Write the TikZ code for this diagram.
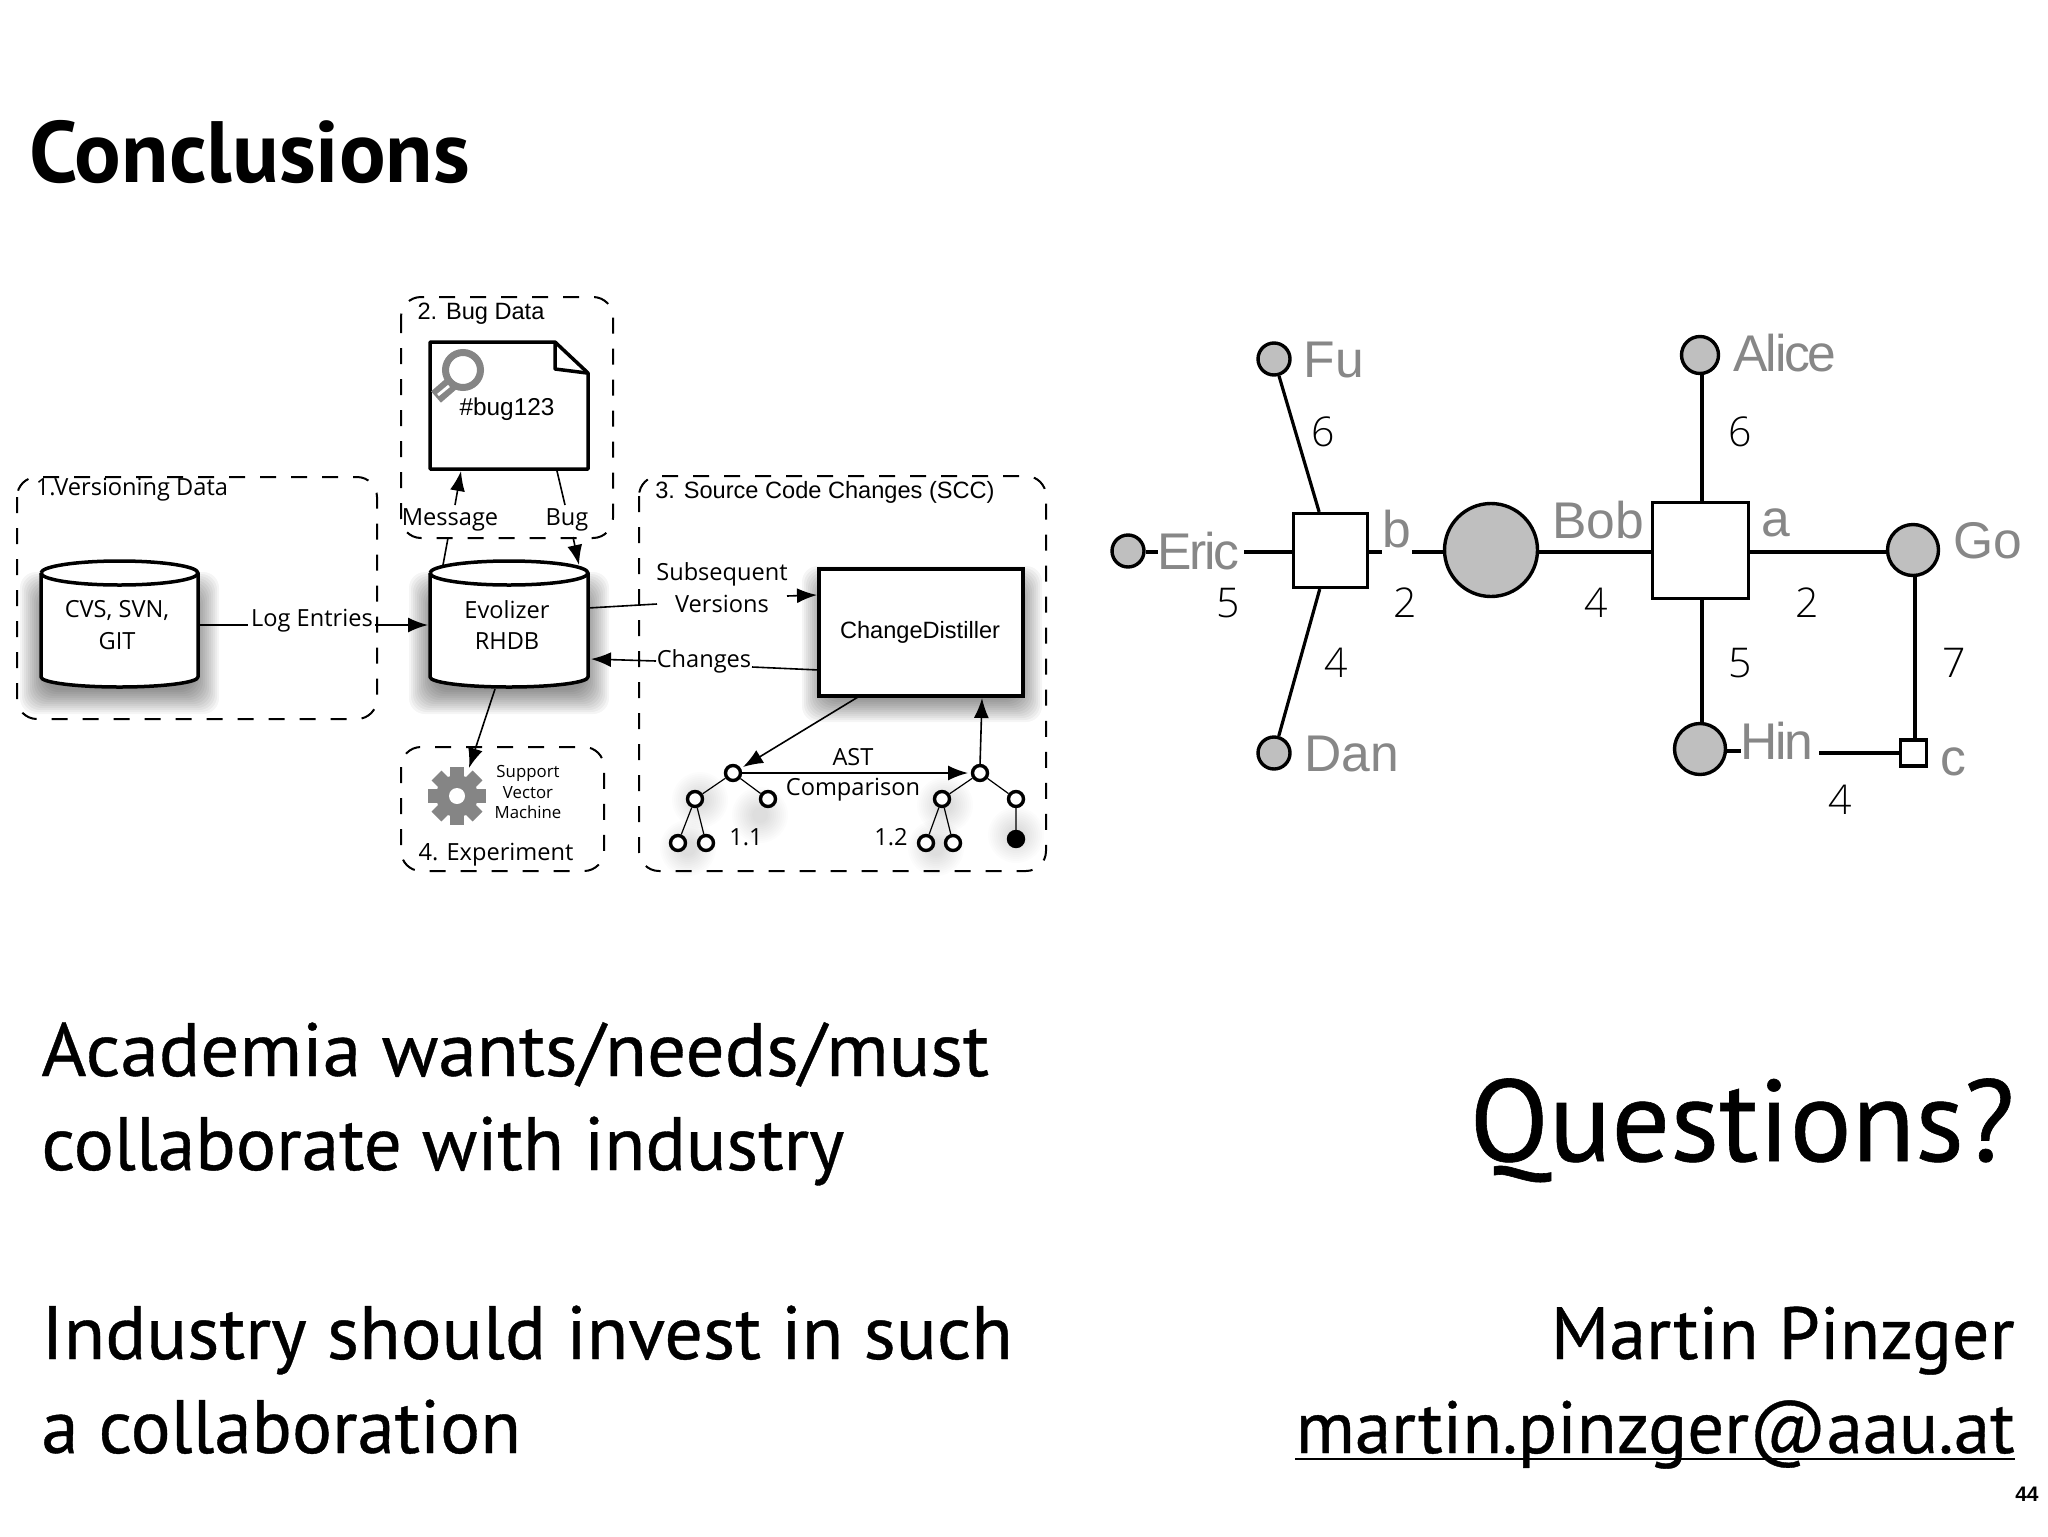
\documentclass[tikz,border=0pt]{standalone}
\usepackage{fontspec}
\usepackage{graphicx}
\usetikzlibrary{arrows.meta,positioning,calc,shapes.geometric}
\setmainfont{Liberation Sans}
\newfontfamily\slidefont[FakeBold=0.5]{PT Sans}
\newfontfamily\titlefont{PT Sans}
\newfontfamily\lucfont{Open Sans}
\newfontfamily\helvfont{Liberation Sans}
\newfontfamily\tightfont[LetterSpace=-4.5]{Liberation Sans}
\newfontfamily\numfont{Open Sans Light}
\newcommand{\fsz}[1]{\fontsize{#1}{#1}\selectfont}
\definecolor{nodegray}{gray}{0.75}
\definecolor{labgray}{gray}{0.53}
\definecolor{icongray}{gray}{0.52}
\tikzset{
  x=0.5pt,y=-0.5pt,
  dashbox/.style={draw=black,line width=1pt,dash pattern=on 8pt off 7.5pt,rounded corners=10pt},
  heavy/.style={draw=black,line width=1.75pt,fill=white,line join=round},
  conn/.style={draw=black,line width=0.8pt},
  arr/.style={conn,-{Latex[length=10pt,width=7.5pt]}},
  lab/.style={inner sep=0pt,font=\lucfont\fsz{11.8}},
  labh/.style={inner sep=0pt,font=\helvfont\fsz{11.8}},
  tiny/.style={inner sep=0pt,font=\lucfont\fsz{8.4}},
  treenode/.style={circle,draw=black,line width=1.7pt,fill=white,minimum size=7.5pt,inner sep=0pt},
  treefull/.style={treenode,fill=black},
  treeedge/.style={draw=black,line width=0.6pt},
  person/.style={circle,draw=black,line width=1.7pt,fill=nodegray,inner sep=0pt},
  tsq/.style={rectangle,draw=black,line width=1.6pt,fill=white,inner sep=0pt},
  gedge/.style={draw=black,line width=1.6pt},
  glab/.style={inner sep=0pt,text=labgray,font=\helvfont\fsz{25.8}},
  glabt/.style={inner sep=0pt,text=labgray,font=\tightfont\fsz{25.8}},
  num/.style={inner sep=0pt,text=black,font=\numfont\fsz{20.5}},
  big/.style={inner sep=0pt,anchor=base west,font=\slidefont\fsz{37.8}},
  bigr/.style={inner sep=0pt,anchor=base east,font=\slidefont\fsz{37}},
}
\newcommand{\softbox}[4]{%
  \foreach \r in {1,...,13}{%
    \fill[black,opacity=0.04,rounded corners=8pt] ({#1-2*\r},{#2-2*\r}) rectangle ({#3+2*\r},{#4+2*\r});}}
\newcommand{\softdot}[2]{%
  \foreach \r in {4,...,14}{%
    \fill[black,opacity=0.011] (#1,#2) circle ({2*\r});}}
\newcommand{\cyl}[2]{% left x, right x
  \path[heavy] (#1,573) -- (#1,677) arc[start angle=180,end angle=0,x radius={(#2-#1)/2},y radius=10]
     -- (#2,573) arc[start angle=0,end angle=-180,x radius={(#2-#1)/2},y radius=12];
  \path[heavy] (#1,573) arc[start angle=180,end angle=0,x radius={(#2-#1)/2},y radius=12];}
\begin{document}
\begin{tikzpicture}
\useasboundingbox (0,0) rectangle (2048,1536);
\fill[white] (0,0) rectangle (2048,1536);

% title
\node[inner sep=0pt,anchor=base west,font=\titlefont\bfseries\fsz{43.5}] (title) at (29,182) {Conclusions};

% shadows
\softbox{46}{598}{193}{688}
\softbox{435}{598}{583}{688}
\softbox{828}{592}{1016}{696}
\softdot{688}{848}\softdot{700}{800}\softdot{760}{815}
\softdot{936}{848}\softdot{945}{805}\softdot{1016}{835}

% dashed groups
\draw[dashbox] (17,477) rectangle (377,719);
\draw[dashbox] (401,297) rectangle (613,538);
\draw[dashbox] (401,747) rectangle (604,871);
\draw[dashbox] (639,476) rectangle (1046,871);

% databases
\cyl{41}{198}
\cyl{430}{588}
\node[lab] (cvs) at (117,610) {CVS, SVN,};
\node[lab] (git) at (117,641) {GIT};
\node[lab] (evo) at (507,610) {Evolizer};
\node[lab] (rhdb) at (507,641) {RHDB};
\coordinate (cyaE) at (200,625);
\coordinate (cybW) at (428,625);
\coordinate (cybNa) at (443,565);
\coordinate (cybNb) at (579,565);
\coordinate (cybEa) at (588,608);
\coordinate (cybEb) at (591,659);
\coordinate (cybS) at (495,689);

% bug document
\path[heavy] (430,342) -- (555,342) -- (588,373) -- (588,469) -- (430,469) -- cycle;
\draw[black,line width=1.75pt,line join=round] (555,343) -- (555,369) -- (587,373);
\node[labh,font=\helvfont\fsz{12.2}] (bug123) at (507,409) {\#bug123};
\draw[icongray,line width=3.5pt] (463,370) circle (17.5);
\draw[icongray,line width=7.5pt] (451,384) -- (436,397);
\draw[white,line width=1.4pt] (449,386) -- (438,395);
\coordinate (docSa) at (461,471);
\coordinate (docSb) at (557,471);

% gear
\coordinate (gear) at (457,796);
\foreach \a in {0,45,...,315}{
  \fill[icongray,rotate around={\a:(gear)}] (450,767) rectangle (464,783);}
\fill[icongray] (gear) circle (21);
\fill[white] (gear) circle (8);

% ChangeDistiller
\node[rectangle,draw=black,line width=1.9pt,fill=white,minimum width=102pt,minimum height=63.5pt,inner sep=0pt] (cd) at (921,632.5) {};
\node[inner sep=0pt,font=\helvfont\fsz{11.8}] (cdt) at (920,632) {ChangeDistiller};

% trees
\node[treenode] (a0) at (733,773) {};
\node[treenode] (a1) at (695,799) {};
\node[treenode] (a2) at (768,799) {};
\node[treenode] (a3) at (678,843) {};
\node[treenode] (a4) at (706,843) {};
\node[treenode] (b0) at (980,773) {};
\node[treenode] (b1) at (942,799) {};
\node[treenode] (b2) at (1016,799) {};
\node[treenode] (b3) at (926,843) {};
\node[treenode] (b4) at (953,843) {};
\node[treefull] (b5) at (1016,839) {};
\draw[treeedge] (a0)--(a1) (a0)--(a2) (a1)--(a3) (a1)--(a4);
\draw[treeedge] (b0)--(b1) (b0)--(b2) (b1)--(b3) (b1)--(b4) (b2)--(b5);

% labels
\node[lab,anchor=center] (logtxt) at (312,621) {Log Entries};
\node[lab] (v1) at (132,490) {1.Versioning Data};
\node[labh] (v2) at (481,314) {2. Bug Data};
\node[lab] (msg) at (450,520) {Message};
\node[lab] (bugt) at (567,520) {Bug};
\node[lab] (v4) at (496,855) {4. Experiment};
\node[tiny] (sv1) at (528,773) {Support};
\node[tiny] (sv2) at (528,793) {Vector};
\node[tiny] (sv3) at (528,812) {Machine};
\node[labh] (v3) at (825,492) {3. Source Code Changes (SCC)};
\node[lab] (sub1) at (722,574) {Subsequent};
\node[lab] (sub2) at (722,604) {Versions};
\node[lab] (chg) at (704,661) {Changes};
\node[lab] (ast1) at (853,757) {AST};
\node[lab] (ast2) at (853,790) {Comparison};
\node[lab] (t11) at (746,837) {1.1};
\node[lab] (t12) at (891,837) {1.2};

% connectors, left diagram
\coordinate (logA) at (248,625);
\coordinate (logB) at (375,625);
\draw[conn] (cyaE) -- (logA);
\draw[arr] (logB) -- (cybW);
\coordinate (msgA) at (448,538);
\coordinate (msgB) at (455,505);
\draw[conn] (cybNa) -- (msgA);
\draw[arr] (msgB) -- (docSa);
\coordinate (bugA) at (565,505);
\coordinate (bugB) at (573,537);
\draw[conn] (docSb) -- (bugA);
\draw[arr] (bugB) -- (cybNb);
\coordinate (svmT) at (469,768);
\draw[arr] (cybS) -- (svmT);
\coordinate (subA) at (657,604);
\coordinate (subB) at (787,596);
\coordinate (cdWa) at (817,595);
\draw[conn] (cybEa) -- (subA);
\draw[arr] (subB) -- (cdWa);
\coordinate (chgA) at (752,667);
\coordinate (chgB) at (656,661);
\coordinate (cdWb) at (819,670);
\draw[conn] (cdWb) -- (chgA);
\draw[arr] (chgB) -- (cybEb);
\coordinate (cdSa) at (858,697);
\coordinate (a0NE) at (743,767);
\draw[arr] (cdSa) -- (a0NE);
\coordinate (cdSb) at (982,698);
\coordinate (b0N) at (980,765);
\draw[arr] (b0N) -- (cdSb);
\coordinate (a0E) at (741,773);
\coordinate (b0W) at (968,773);
\draw[arr] (a0E) -- (b0W);

% right diagram: nodes
\node[person,minimum size=16pt] (fu) at (1274,359) {};
\node[person,minimum size=16pt] (eric) at (1128,551) {};
\node[person,minimum size=16pt] (dan) at (1274,753) {};
\node[person,minimum size=18.5pt] (alice) at (1700,355) {};
\node[person,minimum size=46.5pt] (bob) at (1491,550) {};
\node[person,minimum size=25.5pt] (go) at (1913,550) {};
\node[person,minimum size=25.5pt] (hin) at (1700,749) {};
\node[tsq,minimum size=37pt] (sqb) at (1330.5,550.5) {};
\node[tsq,minimum size=48pt] (sqa) at (1700.5,550.5) {};
\node[tsq,minimum size=13pt] (sqc) at (1913.5,753) {};

% right diagram: labels
\node[glab] (lfu) at (1334,360) {Fu};
\node[glabt] (leric) at (1198,551) {Eric};
\node[glab] (ldan) at (1352,754) {Dan};
\node[glab] (lb) at (1397,529) {b};
\node[glab] (lbob) at (1598,520) {Bob};
\node[glabt] (lalice) at (1785,353) {Alice};
\node[glab] (la) at (1776,523) {a};
\node[glab] (lgo) at (1988,541) {Go};
\node[glabt] (lhin) at (1777,741) {Hin};
\node[glab] (lc) at (1953,762) {c};
\node[num] (n1) at (1323,432) {6};
\node[num] (n2) at (1228,603) {5};
\node[num] (n3) at (1405,603) {2};
\node[num] (n4) at (1336,663) {4};
\node[num] (n5) at (1740,432) {6};
\node[num] (n6) at (1596,603) {4};
\node[num] (n7) at (1807,603) {2};
\node[num] (n8) at (1740,663) {5};
\node[num] (n9) at (1954,663) {7};
\node[num] (n10) at (1840,800) {4};

% right diagram: connectors
\draw[gedge] (fu) -- (sqb);
\draw[gedge] (dan) -- (sqb);
\coordinate (eA) at (1158,552);
\coordinate (eB) at (1244,552);
\draw[gedge] (eric.east |- eA) -- (eA);
\draw[gedge] (eB) -- (sqb.west |- eB);
\coordinate (bA) at (1382,552);
\coordinate (bB) at (1412,552);
\draw[gedge] (sqb.east |- bA) -- (bA);
\draw[gedge] (bB) -- (bob.west |- bB);
\draw[gedge] (bob.east |- bB) -- (sqa.west |- bB);
\draw[gedge] (sqa.east |- bB) -- (go.west |- bB);
\draw[gedge] (alice.south -| 1702,0) -- (sqa.north -| 1702,0);
\draw[gedge] (sqa.south -| 1702,0) -- (hin.north -| 1702,0);
\coordinate (hA) at (1741,751);
\coordinate (hB) at (1819,753);
\draw[gedge] (hin.east |- hA) -- (hA);
\draw[gedge] (hB) -- (sqc.west);
\draw[gedge] (go.south -| 1915,0) -- (sqc.north -| 1915,0);

% bottom text
\node[big] (t1) at (41,1076) {\scalebox{1.021}[1]{Academia wants/needs/must}};
\node[big] (t2) at (41,1170) {\scalebox{0.995}[1]{collaborate with industry}};
\node[big] (t3) at (41,1359) {\scalebox{1.008}[1]{Industry should invest in such}};
\node[big] (t4) at (41,1453) {\scalebox{0.99}[1]{a collaboration}};
\node[inner sep=0pt,anchor=base east,font=\slidefont\fsz{58}] (q) at (2015,1161) {Questions?};
\node[bigr] (mp) at (2015,1359) {Martin Pinzger};
\node[bigr] (ml) at (2015,1453) {\scalebox{0.985}[1]{martin.pinzger@aau.at}};
\draw[black,line width=1.3pt] ([yshift=-3pt]ml.base west) -- ([yshift=-3pt]ml.base east);
\node[inner sep=0pt,anchor=base east,font=\helvfont\bfseries\fsz{10.5}] (pg) at (2039,1501) {44};
\end{tikzpicture}
\end{document}
